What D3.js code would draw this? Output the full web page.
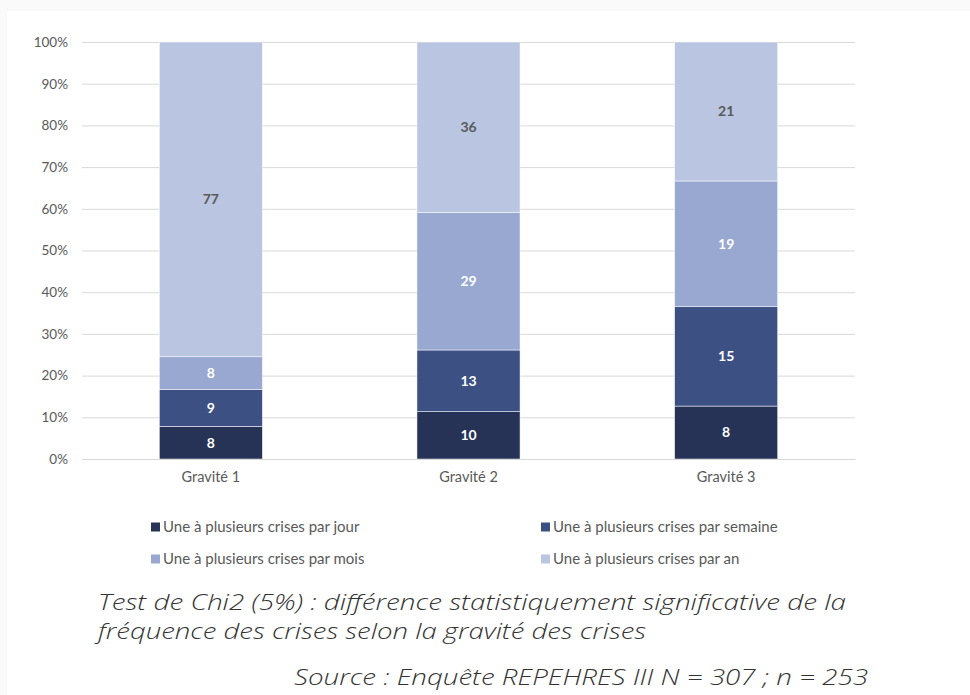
<!DOCTYPE html>
<html><head><meta charset="utf-8">
<script src="https://cdn.jsdelivr.net/npm/d3@7"></script>
<style>
html,body{margin:0;padding:0;background:#fafafa;}
svg{display:block;}
</style></head>
<body>
<svg id="c" width="970" height="695"></svg>
<script>
const categories = ["Gravité 1", "Gravité 2", "Gravité 3"];
const seriesNames = ["Une à plusieurs crises par jour", "Une à plusieurs crises par semaine", "Une à plusieurs crises par mois", "Une à plusieurs crises par an"];
const jour = [8, 10, 8];
const semaine = [9, 13, 15];
const mois = [8, 29, 19];
const an = [77, 36, 21];
const yTicks = [0, 0.1, 0.2, 0.3, 0.4, 0.5, 0.6, 0.7, 0.8, 0.9, 1];
const colors = ["#263357", "#3d5084", "#98a8d0", "#bac6e1"];
const labelColors = ["#ffffff", "#ffffff", "#ffffff", "#595959"];
const footnote1 = "Test de Chi2 (5%) : différence statistiquement significative de la";
const footnote2 = "fréquence des crises selon la gravité des crises";
const source = "Source : Enquête REPEHRES III N = 307 ; n = 253";

(function () {
const svg = d3.select("#c");
svg.append("rect").attr("x", 7).attr("y", 11).attr("width", 963).attr("height", 684).attr("fill", "#fff");

const pLeft = 82, pRight = 855, pTop = 42, pBottom = 459;
const x = d3.scaleBand().domain(categories).range([pLeft, pRight]).paddingInner(0.6).paddingOuter(0.3);
const y = d3.scaleLinear().domain([0, 1]).range([pBottom, pTop]);

const series = [jour, semaine, mois, an];
const rows = categories.map((c, i) => {
  const o = {cat: c};
  seriesNames.forEach((s, k) => o[s] = series[k][i]);
  return o;
});
const stacked = d3.stack().keys(seriesNames).offset(d3.stackOffsetExpand)(rows);

const font = "Lato, 'Open Sans', sans-serif";

// grid
const yAxis = d3.axisLeft(y).tickValues(yTicks).tickFormat(d3.format(".0%")).tickSize(-(pRight - pLeft)).tickPadding(14);
const ga = svg.append("g").attr("transform", `translate(${pLeft},0)`).call(yAxis);
ga.select(".domain").remove();
ga.selectAll(".tick line").attr("stroke", "#d9d9d9").attr("stroke-width", 1);
ga.selectAll(".tick text").attr("fill", "#595959").style("font-family", font).style("font-size", "13.5px");

// bars
stacked.forEach((layer, k) => {
  const g = svg.append("g");
  g.selectAll("rect").data(layer).join("rect")
    .attr("x", d => x(d.data.cat))
    .attr("width", x.bandwidth())
    .attr("y", d => y(d[1]))
    .attr("height", d => y(d[0]) - y(d[1]))
    .attr("fill", colors[k])
    .attr("stroke", "#ffffff").attr("stroke-width", 0.5);
  g.selectAll("text").data(layer).join("text")
    .attr("x", d => x(d.data.cat) + x.bandwidth() / 2)
    .attr("y", d => (y(d[0]) + y(d[1])) / 2)
    .attr("dy", "0.35em")
    .attr("text-anchor", "middle")
    .attr("fill", labelColors[k])
    .style("font-family", font)
    .style("font-weight", "bold").style("font-size", "14px")
    .text(d => d.data[seriesNames[k]]);
});

// x axis
const xAxis = d3.axisBottom(x).tickSize(0).tickPadding(13);
const gx = svg.append("g").attr("transform", `translate(0,${pBottom})`).call(xAxis);
gx.select(".domain").attr("stroke", "#d9d9d9");
gx.selectAll(".tick text").attr("fill", "#595959").style("font-family", font).style("font-size", "14.5px");

// legend
const legPos = [[151, 527], [541, 527], [151, 559], [541, 559]];
seriesNames.forEach((s, k) => {
  const [lx, ly] = legPos[k];
  svg.append("rect").attr("x", lx).attr("y", ly - 4.5).attr("width", 9).attr("height", 9).attr("fill", colors[k]);
  svg.append("text").attr("x", lx + 12).attr("y", ly).attr("dy", "0.35em")
    .attr("fill", "#595959").style("font-family", font).style("font-size", "15px").text(s);
});

// footnotes
function addText(t, tx, ty, len) {
  svg.append("text").attr("x", tx).attr("y", ty).attr("fill", "#333")
    .attr("textLength", len).attr("lengthAdjust", "spacingAndGlyphs")
    .style("font-family", "'Open Sans', Lato, sans-serif").style("font-style", "italic").style("font-weight", "300").style("font-size", "22px")
    .text(t);
}
addText(footnote1, 98, 610, 748);
addText(footnote2, 98, 639, 548);
addText(source, 294, 685, 574);
})();
</script>
</body></html>
